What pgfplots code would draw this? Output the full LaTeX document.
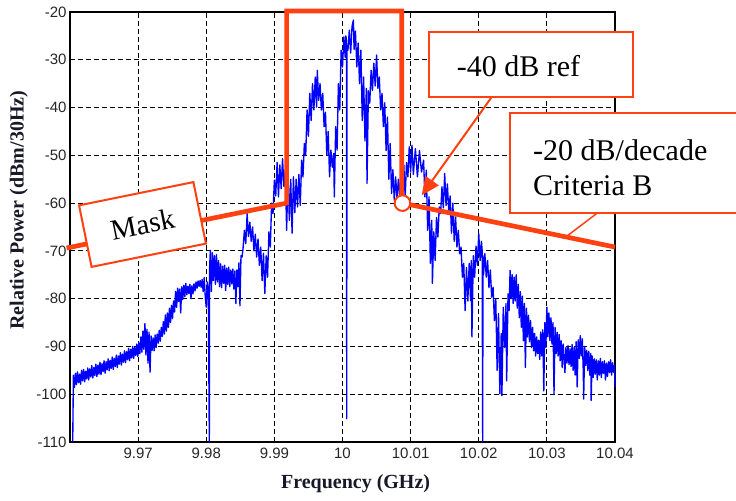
\documentclass[border=0pt]{standalone}
\usepackage{pgfplots}
\pgfplotsset{compat=1.18}
\usepackage{fontspec}
\setmainfont{Liberation Serif}
\newfontfamily\arialfont{Liberation Sans}
\usetikzlibrary{arrows.meta}
\definecolor{maskred}{RGB}{255,64,16}
\definecolor{labelink}{RGB}{24,24,40}

\begin{document}
\begin{tikzpicture}
\begin{axis}[
  scale only axis, width=545pt, height=430pt,
  xmin=9.96, xmax=10.04, ymin=-110, ymax=-20,
  xtick={9.97,9.98,9.99,10,10.01,10.02,10.03,10.04},
  xticklabels={9.97,9.98,9.99,10,10.01,10.02,10.03,10.04},
  ytick={-110,-100,-90,-80,-70,-60,-50,-40,-30,-20},
  yticklabels={-110,-100,-90,-80,-70,-60,-50,-40,-30,-20},
  major tick length=0pt,
  grid=major,
  grid style={black, line width=0.9pt, dash pattern=on 5pt off 3pt},
  axis line style={black, line width=1.1pt},
  ticklabel style={font=\arialfont\fontsize{15}{15}\selectfont, text=black!85},
  xticklabel style={yshift=-2.5pt},
  /pgf/number format/assume math mode=true,
  xlabel={Frequency (GHz)},
  ylabel={Relative Power (dBm/30Hz)},
  label style={font=\bfseries\fontsize{20}{20}\selectfont, text=labelink},
  xlabel style={at={(axis description cs:0.524,-0.096)}, anchor=center},
  ylabel style={at={(axis description cs:-0.094,0.539)}, anchor=center},
  clip=false,
]
% measured spectrum
\addplot[blue, line width=1.35pt, line join=round] coordinates {
(9.9604,-110) (9.96050,-96.0) (9.96065,-98.6) (9.96080,-95.6) (9.96095,-98.0) (9.96110,-95.3) (9.96125,-97.6) (9.96140,-95.8) (9.96155,-97.9) (9.96170,-95.0)
(9.96185,-97.2) (9.96200,-94.8) (9.96215,-97.4) (9.96230,-95.2) (9.96245,-96.8) (9.96260,-94.5) (9.96275,-97.0) (9.96290,-94.7) (9.96305,-96.4) (9.96320,-94.0)
(9.96335,-96.6) (9.96350,-94.4) (9.96365,-96.1) (9.96380,-93.7) (9.96395,-96.3) (9.96410,-93.9) (9.96425,-95.8) (9.96440,-93.3) (9.96455,-95.9) (9.96470,-93.6)
(9.96485,-95.3) (9.96500,-93.0) (9.96515,-95.6) (9.96530,-93.2) (9.96545,-94.9) (9.96560,-92.6) (9.96575,-95.1) (9.96590,-92.9) (9.96605,-94.6) (9.96620,-92.2)
(9.96635,-94.8) (9.96650,-92.5) (9.96665,-94.2) (9.96680,-91.8) (9.96695,-94.4) (9.96710,-92.0) (9.96725,-93.7) (9.96740,-91.3) (9.96755,-93.9) (9.96770,-91.6)
(9.96785,-93.3) (9.96800,-90.9) (9.96815,-93.4) (9.96830,-91.1) (9.96845,-92.8) (9.96860,-90.4) (9.96875,-93.0) (9.96890,-90.6) (9.96905,-92.4) (9.96920,-90.0)
(9.96935,-92.5) (9.96950,-90.2) (9.96965,-91.9) (9.96980,-89.5) (9.96995,-92.1) (9.97010,-89.2) (9.97025,-91.5) (9.97040,-88.0) (9.97055,-91.2) (9.97070,-86.8)
(9.97085,-90.6) (9.97100,-85.2) (9.97115,-91.8) (9.97130,-86.4) (9.97145,-93.5) (9.97160,-87.0) (9.97175,-95.4) (9.97190,-87.8) (9.97205,-90.8) (9.97220,-88.2)
(9.97235,-90.9) (9.97250,-87.6) (9.97265,-90.2) (9.97280,-87.4) (9.97295,-89.3) (9.97310,-86.6) (9.97325,-88.9) (9.97340,-86.0) (9.97355,-87.9) (9.97370,-84.8)
(9.97385,-87.4) (9.97400,-83.4) (9.97415,-86.8) (9.97430,-83.0) (9.97445,-86.0) (9.97460,-82.0) (9.97475,-85.0) (9.97490,-81.4) (9.97505,-84.2) (9.97520,-80.5)
(9.97535,-82.8) (9.97550,-78.5) (9.97565,-81.8) (9.97580,-77.8) (9.97595,-80.6) (9.97610,-78.0) (9.97625,-83.0) (9.97640,-77.5) (9.97655,-80.2) (9.97670,-77.2)
(9.97685,-79.6) (9.97700,-76.8) (9.97715,-79.2) (9.97730,-77.4) (9.97745,-78.9) (9.97760,-77.0) (9.97775,-80.0) (9.97790,-77.3) (9.97805,-79.0) (9.97820,-76.9)
(9.97835,-78.4) (9.97850,-76.5) (9.97865,-77.8) (9.97880,-76.3) (9.97895,-77.4) (9.97910,-76.2) (9.97925,-77.6) (9.97940,-76.0) (9.97955,-78.5) (9.97970,-75.6)
(9.97985,-79.5) (9.98000,-81.8) (9.98015,-76.5) (9.98030,-78.0) (9.98045,-110) (9.98048,-74.0)
(9.98060,-69.9) (9.98075,-78.5) (9.98090,-70.4) (9.98105,-76.2) (9.98120,-71.0) (9.98135,-77.0) (9.98150,-70.8) (9.98165,-76.5) (9.98180,-72.0) (9.98195,-77.5)
(9.98210,-72.7) (9.98225,-77.7) (9.98240,-73.2) (9.98255,-76.8) (9.98270,-73.0) (9.98285,-78.3) (9.98300,-73.6) (9.98315,-77.0) (9.98330,-73.4) (9.98345,-77.5)
(9.98360,-74.0) (9.98375,-76.9) (9.98390,-73.8) (9.98405,-78.0) (9.98420,-74.2) (9.98435,-81.0) (9.98450,-74.0) (9.98465,-77.5) (9.98480,-72.5) (9.98495,-81.5)
(9.98510,-71.0) (9.98525,-71.3) (9.9854,-69.5) (9.9856,-65.7) (9.9858,-68.5) (9.9860,-62.2) (9.9862,-67.0)
(9.9864,-64.0) (9.9866,-68.0) (9.9868,-65.0) (9.9870,-70.0) (9.9872,-66.5) (9.9874,-71.3) (9.9876,-67.5) (9.9878,-73.0) (9.9880,-69.2) (9.9882,-76.2)
(9.9884,-70.5) (9.9886,-78.9) (9.9888,-71.0) (9.9890,-75.5) (9.9892,-66.0) (9.9894,-69.2) (9.9896,-60.0) (9.9898,-62.2) (9.9900,-55.2) (9.9902,-58.5)
(9.9904,-51.5) (9.9906,-58.7) (9.9908,-52.0) (9.9910,-57.0) (9.9912,-50.7) (9.9914,-56.5) (9.9916,-53.0) (9.9918,-65.7) (9.9920,-54.0) (9.9922,-63.6)
(9.9924,-55.0) (9.9926,-66.3) (9.9928,-54.5) (9.9930,-62.0) (9.9932,-55.0) (9.9934,-60.8) (9.9936,-54.0) (9.9938,-60.5) (9.9940,-51.0) (9.9942,-54.5)
(9.9944,-47.5) (9.9946,-50.0) (9.9948,-40.5) (9.9950,-46.0) (9.9952,-37.0) (9.9954,-42.7) (9.9956,-35.0) (9.9958,-40.5) (9.9960,-33.6) (9.9962,-39.9)
(9.9963,-32.2) (9.9965,-38.5) (9.9967,-35.0) (9.9969,-40.5) (9.9971,-37.0) (9.9973,-44.0) (9.9975,-41.0) (9.9977,-50.0) (9.9979,-45.0) (9.9981,-54.5)
(9.9983,-48.9) (9.9985,-52.5) (9.9987,-49.6) (9.9988,-58.7) (9.9990,-44.0) (9.9992,-48.9) (9.9994,-35.0) (9.9996,-40.5) (9.9998,-28.0) (10.0000,-31.5)
(10.0002,-25.2) (10.0004,-29.5) (10.0005,-25.0) (10.00058,-26.0) (10.00062,-105.1) (10.00066,-27.0) (10.0008,-28.0) (10.0010,-23.8) (10.0012,-28.6) (10.0014,-23.0)
(10.0016,-21.7) (10.0017,-27.8) (10.0019,-24.0) (10.0021,-31.5) (10.0023,-26.5) (10.0025,-35.0) (10.0027,-28.0) (10.0029,-42.7) (10.0031,-33.6) (10.0033,-47.0)
(10.0035,-36.0) (10.0036,-55.9) (10.0038,-36.5) (10.0040,-39.1) (10.0042,-32.2) (10.0044,-36.4) (10.0046,-30.7) (10.0048,-35.5) (10.0050,-29.0) (10.0052,-36.0)
(10.0054,-33.6) (10.0056,-40.5) (10.0058,-37.0) (10.0060,-44.0) (10.0062,-39.0) (10.0064,-49.0) (10.0066,-42.0) (10.0068,-55.0) (10.0070,-47.5) (10.0072,-58.0)
(10.0074,-53.0) (10.0076,-59.4) (10.0078,-54.5) (10.0080,-59.0) (10.0082,-55.0) (10.0084,-58.5) (10.0086,-53.5) (10.0088,-59.4) (10.0090,-52.0) (10.0092,-58.7)
(10.0094,-51.5) (10.0096,-54.5) (10.0098,-48.2) (10.0100,-53.5) (10.0102,-47.9) (10.0104,-54.0) (10.0107,-48.6) (10.0110,-54.5) (10.0113,-49.0) (10.0116,-53.5)
(10.0119,-51.0) (10.0121,-58.7) (10.0123,-53.1) (10.0125,-65.7) (10.0127,-58.7) (10.0129,-72.6) (10.0131,-63.6) (10.0132,-76.8) (10.0134,-66.0) (10.0136,-72.0)
(10.0138,-63.0) (10.0140,-67.1) (10.0142,-60.8) (10.0144,-62.2) (10.0146,-56.6) (10.0148,-61.0) (10.0150,-53.8) (10.0152,-60.5) (10.0154,-56.0) (10.0156,-62.0)
(10.0158,-58.5) (10.0160,-66.3) (10.0162,-60.0) (10.0164,-68.0) (10.0166,-62.9) (10.0168,-69.2) (10.0170,-65.7) (10.0172,-70.6) (10.0174,-69.2) (10.0176,-75.5)
(10.0178,-72.6) (10.0180,-82.5) (10.0182,-73.5) (10.0184,-80.5) (10.0186,-72.6) (10.0188,-80.4) (10.0189,-72.0) (10.0190,-88.0) (10.0192,-71.0) (10.0194,-75.5)
(10.0196,-69.0) (10.0198,-73.0) (10.0200,-66.3) (10.0202,-72.0) (10.0204,-68.0) (10.0205,-70.0) (10.02058,-110) (10.02062,-71.0) (10.0207,-75.0) (10.0209,-70.6)
(10.0211,-75.5) (10.0213,-72.0) (10.0215,-77.7) (10.0217,-74.0) (10.0219,-79.7) (10.0221,-77.6) (10.0223,-84.6) (10.0225,-80.0) (10.0227,-95.0) (10.0229,-83.1)
(10.0231,-99.9) (10.0233,-87.3) (10.0234,-100.3) (10.0236,-81.8) (10.0238,-90.2) (10.0240,-81.0) (10.0241,-97.2)
(10.02430,-79.0) (10.02445,-82.5) (10.02460,-74.1) (10.02475,-80.0) (10.02490,-75.0) (10.02505,-81.0) (10.02520,-75.5) (10.02535,-80.5) (10.02550,-75.0) (10.02565,-82.0)
(10.02580,-77.0) (10.02595,-84.0) (10.02610,-78.5) (10.02625,-86.0) (10.02640,-79.5) (10.02655,-88.8) (10.02670,-81.0) (10.02685,-94.4) (10.02700,-82.0) (10.02715,-88.0)
(10.02730,-83.5) (10.02745,-89.0) (10.02760,-84.6) (10.02775,-90.2) (10.02790,-86.0) (10.02805,-90.9) (10.02820,-87.3) (10.02835,-92.0) (10.02850,-88.0) (10.02865,-91.5)
(10.02880,-88.7) (10.02895,-92.7) (10.02910,-87.0) (10.02925,-92.0) (10.02940,-86.5) (10.02955,-99.3) (10.02970,-85.0) (10.02985,-90.2) (10.03000,-81.8) (10.03015,-88.0)
(10.03030,-83.0) (10.03045,-88.8) (10.03060,-84.0) (10.03075,-89.5) (10.03090,-85.0) (10.03105,-99.9) (10.03120,-86.0) (10.03135,-91.5) (10.03150,-87.0) (10.03165,-92.0)
(10.03180,-87.5) (10.03195,-93.0) (10.03210,-88.8) (10.03225,-94.4) (10.03240,-89.5)
(10.03265,-95.5) (10.0328,-90.2) (10.03295,-93.5) (10.0331,-89.8) (10.03325,-93.8) (10.0334,-90.5) (10.03355,-94.2) (10.0337,-89.6) (10.03385,-95.0)
(10.0340,-90.2) (10.03415,-96.0) (10.0343,-89.0) (10.03445,-98.5) (10.0346,-88.6) (10.03475,-92.5) (10.0349,-87.7) (10.03505,-92.0) (10.0352,-88.4) (10.03535,-95.5)
(10.0354,-101.0) (10.03555,-90.0) (10.0357,-94.0) (10.03585,-90.8) (10.0360,-95.0) (10.03615,-91.0) (10.0363,-96.0) (10.03645,-91.5) (10.0365,-101.3) (10.03665,-92.0)
(10.0368,-96.5) (10.03695,-92.6) (10.0371,-95.8) (10.03725,-92.8) (10.0374,-97.0) (10.03755,-93.0) (10.0377,-96.0) (10.03785,-92.5) (10.0380,-96.5) (10.03815,-93.2)
(10.0383,-95.6) (10.03845,-93.0) (10.0386,-97.0) (10.03875,-93.5) (10.0389,-96.3) (10.03905,-93.2) (10.0392,-95.5) (10.03935,-92.8) (10.0395,-96.0) (10.03965,-93.4)
(10.0398,-95.4) (10.03995,-94.0) (10.0400,-98.5)
};
% spectral mask with -20 dB/decade skirts
\addplot[maskred, line width=4.7pt, line join=miter] coordinates {
(9.9595,-69.4) (9.9918,-60) (9.9918,-19.8) (10.0087,-19.8) (10.0087,-60) (10.0088,-60) (10.04,-69.2)
};
% -40 dB reference point
\addplot[only marks, mark=*, mark size=7.8pt,
  mark options={fill=white, draw=maskred, line width=2pt}] coordinates {(10.0088,-60)};
\end{axis}

% annotations
\draw[maskred, line width=2pt, -{Triangle[length=18pt,width=16pt]}] (421.7pt,345pt) -- (351.7pt,246.7pt);
\draw[maskred, line width=2pt, fill=white] (359pt,344.7pt) rectangle (563pt,409.7pt);
\node[font=\fontsize{30}{35}\selectfont] at (448.5pt,376pt) {-40 dB ref};

\draw[maskred, line width=1.5pt] (530pt,231pt) -- (495pt,204.4pt);
\draw[maskred, line width=2pt, fill=white] (440pt,228.7pt) rectangle (690pt,328.7pt);
\node[font=\fontsize{30}{35}\selectfont, anchor=west, align=left, inner sep=0pt] at (463pt,274pt) {-20 dB/decade\\Criteria B};

\node[draw=maskred, line width=2pt, fill=white, rotate=11.5, minimum width=116.7pt,
  minimum height=62.8pt, font=\fontsize{29}{35}\selectfont] at (72.5pt,217.5pt) {Mask};

\pgfresetboundingbox
\path[use as bounding box] (-70pt,-58.3pt) rectangle (666pt,442pt);
\end{tikzpicture}
\end{document}
